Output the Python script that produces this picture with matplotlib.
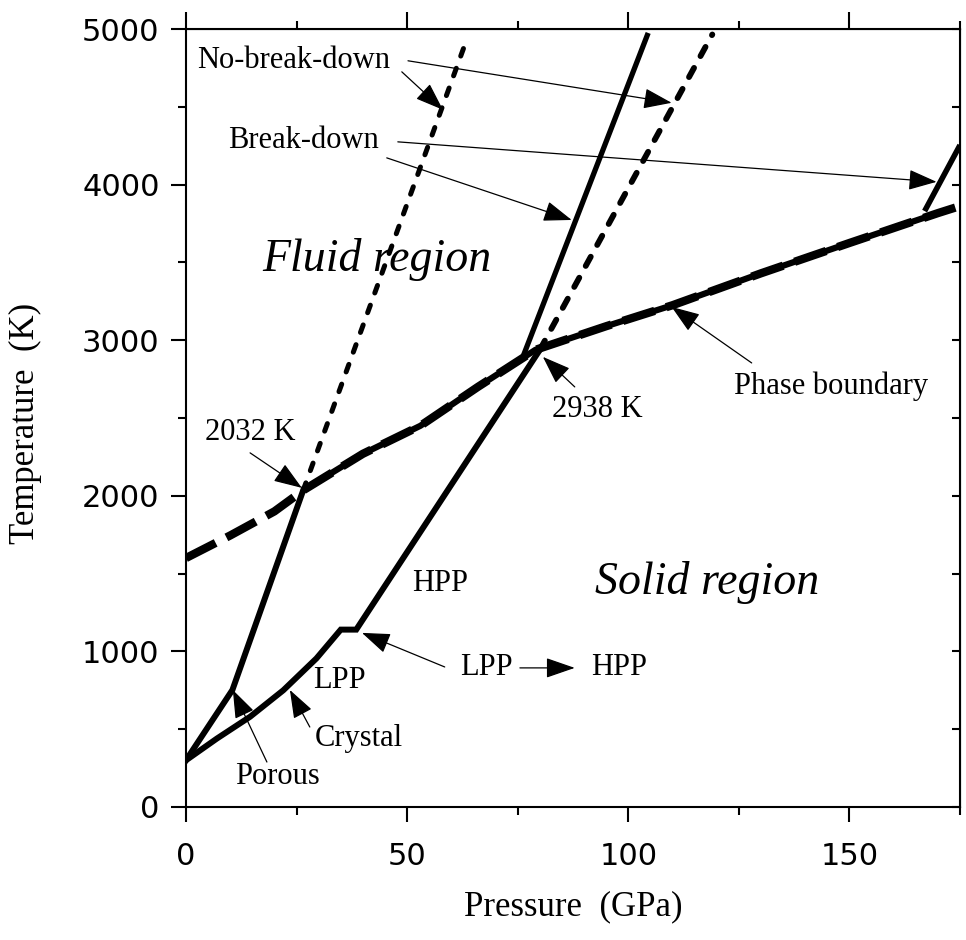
import matplotlib
matplotlib.use("Agg")
import matplotlib.pyplot as plt
import numpy as np

# phase boundary (melting curve), P in GPa, T in K
melt_p = [0, 10, 20, 26.5, 40, 53, 66, 79, 95, 110, 130, 150, 170, 175]
melt_t = [1600, 1745, 1900, 2035, 2270, 2450, 2700, 2938, 3090, 3225, 3430, 3625, 3817, 3862]

# Hugoniots
porous_p = [0, 10.5, 26.5]
porous_t = [300, 752, 2035]
porous_nb_p = [26.5, 63.7]
porous_nb_t = [2035, 4950]

crystal_p = [0, 7, 14.5, 22, 29.5, 35, 38.5, 80]
crystal_t = [300, 440, 580, 750, 955, 1140, 1140, 2938]
crystal_bd_p = [76, 104.5]
crystal_bd_t = [2880, 4975]
crystal_nb_p = [80, 119]
crystal_nb_t = [2938, 4965]

bd_hi_p = [167, 175]
bd_hi_t = [3830, 4254]

serif = 'Liberation Serif'
txt = dict(family=serif, fontsize=22)

fig = plt.figure(figsize=(9.66, 9.40), dpi=100)
ax = fig.add_axes([0.1925, 0.1415, 0.8013, 0.8276])

mp = np.array(melt_p)
mt = np.array(melt_t)
ax.plot(mp, mt, color='k', lw=6, ls=(0, (4, 1.45)), solid_capstyle='butt', dash_capstyle='butt')
sel = (mp >= 26.5) & (mp <= 170)
ax.plot(mp[sel], mt[sel], color='k', lw=4.5, solid_capstyle='butt')

ax.plot(porous_p, porous_t, color='k', lw=4.3, solid_joinstyle='miter')
ax.plot(porous_nb_p, porous_nb_t, color='k', lw=3.6, ls=(0, (1.6, 2.6)), dash_capstyle='round')
ax.plot(crystal_p, crystal_t, color='k', lw=4.3, solid_joinstyle='miter')
ax.plot(crystal_bd_p, crystal_bd_t, color='k', lw=3.8, solid_capstyle='butt')
ax.plot(crystal_nb_p, crystal_nb_t, color='k', lw=4.2, ls=(0, (1.8, 2.3)), dash_capstyle='round')
ax.plot(bd_hi_p, bd_hi_t, color='k', lw=4.0, solid_capstyle='butt')

ax.set_xlim(0, 175)
ax.set_ylim(0, 5000)

arr = dict(arrowstyle='-|>,head_length=1.1,head_width=0.4', color='k', lw=0.9,
           shrinkA=0, shrinkB=0, mutation_scale=16)

def note(s, xy, xytext, ha='left'):
    ax.annotate('', xy=xy, xytext=xytext, arrowprops=arr)

ax.text(2.5, 4796, 'No-break-down', ha='left', va='center', **txt)
note('', (58.1, 4481), (48.8, 4725))
note('', (109.8, 4526), (50.2, 4796))

ax.text(9.5, 4281, 'Break-down', ha='left', va='center', **txt)
note('', (169.7, 4018), (47.9, 4275))
note('', (87.2, 3773), (45.4, 4172))

ax.text(17.2, 3516, 'Fluid region', ha='left', va='center', family=serif,
        fontsize=33, style='italic')
ax.text(92.4, 1440, 'Solid region', ha='left', va='center', family=serif,
        fontsize=33, style='italic')

ax.text(4.3, 2404, '2032 K', ha='left', va='center', **txt)
note('', (26.2, 2051), (14.5, 2276))
ax.text(82.7, 2552, '2938 K', ha='left', va='center', **txt)
note('', (80.7, 2893), (87.9, 2700))
ax.text(124, 2706, 'Phase boundary', ha='left', va='center', **txt)
note('', (109.8, 3214), (127.9, 2854))

ax.text(51.1, 1434, 'HPP', ha='left', va='center', **txt)
ax.text(28.7, 816, 'LPP', ha='left', va='center', **txt)
ax.text(61.9, 894, 'LPP', ha='left', va='center', **txt)
ax.annotate('', xy=(87.9, 894), xytext=(75.5, 894),
            arrowprops=dict(arrowstyle='-|>,head_length=1.3,head_width=0.45', color='k',
                            lw=0.9, shrinkA=0, shrinkB=0, mutation_scale=14))
ax.text(91.7, 894, 'HPP', ha='left', va='center', **txt)
note('', (39.8, 1119), (58.5, 900))

ax.text(29.1, 437, 'Crystal', ha='left', va='center', **txt)
note('', (23.5, 752), (28.0, 514))
ax.text(11.1, 193, 'Porous', ha='left', va='center', **txt)
note('', (10.6, 752), (18.3, 289))

# axes, ticks
for s in ax.spines.values():
    s.set_linewidth(1.5)
ax.set_xticks([0, 50, 100, 150])
ax.set_xticks([25, 75, 125, 175], minor=True)
ax.set_yticks([0, 1000, 2000, 3000, 4000, 5000])
ax.set_yticks(np.arange(500, 5000, 1000), minor=True)
ax.tick_params(which='major', direction='out', length=11, width=1.5, labelsize=22)
ax.tick_params(which='minor', direction='out', length=6, width=1.5)
ax.tick_params(axis='x', which='major', pad=14)
ax.tick_params(axis='y', which='major', pad=8)
for lab in ax.get_xticklabels() + ax.get_yticklabels():
    lab.set_family('DejaVu Sans')

top = ax.secondary_xaxis('top')
top.set_xticks([0, 50, 100, 150])
top.set_xticks([25, 75, 125, 175], minor=True)
top.tick_params(which='major', direction='out', length=12, width=1.5, labeltop=False)
top.tick_params(which='minor', direction='out', length=6, width=1.5)
right = ax.secondary_yaxis('right')
right.set_yticks([0, 1000, 2000, 3000, 4000, 5000])
right.set_yticks(np.arange(500, 5000, 1000), minor=True)
right.tick_params(which='both', direction='in', length=6, width=1.5, labelright=False)

fig.text(0.5932, 0.035, 'Pressure  (GPa)', ha='center', va='center', family=serif, fontsize=25)
fig.text(0.026, 0.55, 'Temperature  (K)', ha='center', va='center', rotation=90,
         family=serif, fontsize=25)

fig.savefig('out.png', dpi=100)
